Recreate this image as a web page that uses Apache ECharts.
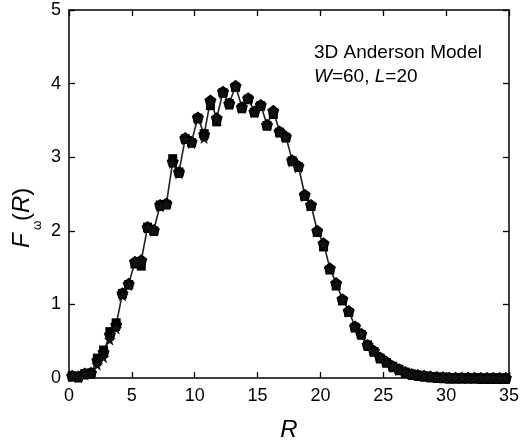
<!DOCTYPE html>
<html>
<head>
<meta charset="utf-8">
<script src="https://cdn.jsdelivr.net/npm/echarts@6/dist/echarts.min.js"></script>
<style>html,body{margin:0;padding:0;background:#fff}#c{width:522px;height:447px}</style>
</head>
<body>
<div id="c"></div>
<script>
// R values (step 0.5 from 0.25 to 34.75)
var rValues = [0.25,0.75,1.25,1.75,2.25,2.75,3.25,3.75,4.25,4.75,5.25,5.75,6.25,6.75,7.25,7.75,8.25,8.75,9.25,9.75,
  10.25,10.75,11.25,11.75,12.25,12.75,13.25,13.75,14.25,14.75,15.25,15.75,16.25,16.75,17.25,17.75,18.25,18.75,19.25,19.75,
  20.25,20.75,21.25,21.75,22.25,22.75,23.25,23.75,24.25,24.75,25.25,25.75,26.25,26.75,27.25,27.75,28.25,28.75,29.25,29.75,
  30.25,30.75,31.25,31.75,32.25,32.75,33.25,33.75,34.25,34.75];
// pentagon series
var fPentagon = [0.03,0.02,0.06,0.07,0.24,0.35,0.59,0.72,1.15,1.28,1.58,1.60,2.05,2.01,2.35,2.37,2.94,2.80,3.26,3.21,
  3.54,3.31,3.77,3.53,3.89,3.73,3.97,3.68,3.80,3.62,3.71,3.44,3.63,3.35,3.28,2.96,2.88,2.49,2.35,2.00,
  1.83,1.49,1.29,1.07,0.91,0.70,0.60,0.45,0.37,0.28,0.22,0.16,0.12,0.08,0.055,0.04,0.03,0.02,0.015,0.01,
  0.005,0.004,0.003,0.002,0.002,0.001,0.001,0.001,0.001,0.0];
// square series
var fSquare = [0.03,0.02,0.06,0.07,0.27,0.38,0.63,0.75,1.15,1.27,1.55,1.52,2.05,2.00,2.35,2.36,2.98,2.80,3.25,3.20,
  3.53,3.32,3.70,3.48,3.88,3.73,3.95,3.67,3.79,3.61,3.70,3.43,3.58,3.34,3.27,2.95,2.87,2.47,2.33,1.98,
  1.78,1.47,1.25,1.05,0.89,0.69,0.59,0.45,0.36,0.27,0.21,0.16,0.12,0.08,0.055,0.04,0.03,0.02,0.015,0.01,
  0.005,0.004,0.003,0.002,0.002,0.001,0.001,0.001,0.001,0.0];
// star series
var fStar = [0.02,0.01,0.05,0.06,0.18,0.28,0.52,0.67,1.12,1.26,1.57,1.59,2.04,2.00,2.33,2.36,2.92,2.78,3.24,3.19,
  3.52,3.26,3.75,3.52,3.87,3.72,3.96,3.67,3.79,3.61,3.70,3.43,3.62,3.34,3.27,2.94,2.86,2.47,2.34,1.99,
  1.82,1.48,1.28,1.06,0.90,0.69,0.59,0.45,0.36,0.27,0.21,0.16,0.11,0.08,0.05,0.04,0.03,0.02,0.01,0.01,
  0.005,0.004,0.003,0.002,0.002,0.001,0.001,0.001,0.001,0.0];
var xTicks = [0,5,10,15,20,25,30,35];
var yTicks = [0,1,2,3,4,5];

function pairs(ys){ return rValues.map(function(r,i){ return [r, ys[i]]; }); }

var pentagon = 'path://M0,-1 L0.951,-0.309 L0.588,0.809 L-0.588,0.809 L-0.951,-0.309 Z';
var star = 'path://M0,-1 L0.2245,-0.309 L0.951,-0.309 L0.363,0.118 L0.588,0.809 L0,0.382 L-0.588,0.809 L-0.363,0.118 L-0.951,-0.309 L-0.2245,-0.309 Z';

function axisLine(){ return {show:true, onZero:false, lineStyle:{color:'#000', width:1.5}}; }
function tickIn(){ return {show:true, inside:true, length:6, lineStyle:{color:'#000', width:1.3}}; }
function labelStyle(m){ return {show:true, margin:m, color:'#000', fontSize:18, fontFamily:'Liberation Sans, Arial, sans-serif'}; }

var chart = echarts.init(document.getElementById('c'));
chart.setOption({
  animation:false,
  backgroundColor:'#fff',
  grid:{left:69, right:10, top:10, bottom:69},
  xAxis:[
    {type:'value', min:0, max:35, interval:5, position:'bottom', axisLine:axisLine(), axisTick:tickIn(),
     axisLabel:labelStyle(9), splitLine:{show:false},
     name:'R', nameLocation:'middle', nameGap:40,
     nameTextStyle:{color:'#000', fontSize:24, fontStyle:'italic', fontFamily:'Liberation Sans, Arial, sans-serif'}},
    {type:'value', min:0, max:35, interval:5, position:'top', axisLine:axisLine(), axisTick:tickIn(),
     axisLabel:{show:false}, splitLine:{show:false}}
  ],
  yAxis:[
    {type:'value', min:0, max:5, interval:1, position:'left', axisLine:axisLine(), axisTick:tickIn(),
     axisLabel:labelStyle(8), splitLine:{show:false}},
    {type:'value', min:0, max:5, interval:1, position:'right', axisLine:axisLine(), axisTick:tickIn(),
     axisLabel:{show:false}, splitLine:{show:false}}
  ],
  graphic:[
    {type:'text', left:314, top:43, style:{text:'3D Anderson Model', fill:'#000', fontSize:19, fontFamily:'Liberation Sans, Arial, sans-serif'}},
    {type:'text', left:314, top:67, style:{text:'{i|W}=60, {i|L}=20', fill:'#000', fontSize:19, fontFamily:'Liberation Sans, Arial, sans-serif',
      rich:{i:{fontStyle:'italic', fontSize:19, fontFamily:'Liberation Sans, Arial, sans-serif'}}}},
    {type:'text', x:34, y:248, rotation:Math.PI/2, style:{text:'F', fill:'#000', fontSize:24, fontStyle:'italic', fontFamily:'Liberation Sans, Arial, sans-serif', textAlign:'left', textVerticalAlign:'bottom'}},
    {type:'text', x:44, y:230, rotation:Math.PI/2, style:{text:'ω', fill:'#000', fontSize:12, fontFamily:'Liberation Sans, Arial, sans-serif', textAlign:'left', textVerticalAlign:'bottom'}},
    {type:'text', x:34, y:221, rotation:Math.PI/2, style:{text:'({i|R})', fill:'#000', fontSize:24, fontFamily:'Liberation Sans, Arial, sans-serif', textAlign:'left', textVerticalAlign:'bottom',
      rich:{i:{fontStyle:'italic', fontSize:24, fontFamily:'Liberation Sans, Arial, sans-serif'}}}}
  ],
  series:[
    {type:'line', data:pairs(fPentagon), showSymbol:false, symbol:'none', lineStyle:{color:'#222', width:1.6}, z:1},
    {type:'scatter', data:pairs(fSquare), symbol:'rect', symbolSize:9, itemStyle:{color:'#000', opacity:1}, z:2},
    {type:'scatter', data:pairs(fPentagon), symbol:pentagon, symbolSize:12, itemStyle:{color:'#000', opacity:1}, z:3},
    {type:'scatter', data:pairs(fStar), symbol:star, symbolSize:12, itemStyle:{color:'#111', opacity:1}, z:4}
  ]
});
</script>
</body>
</html>
